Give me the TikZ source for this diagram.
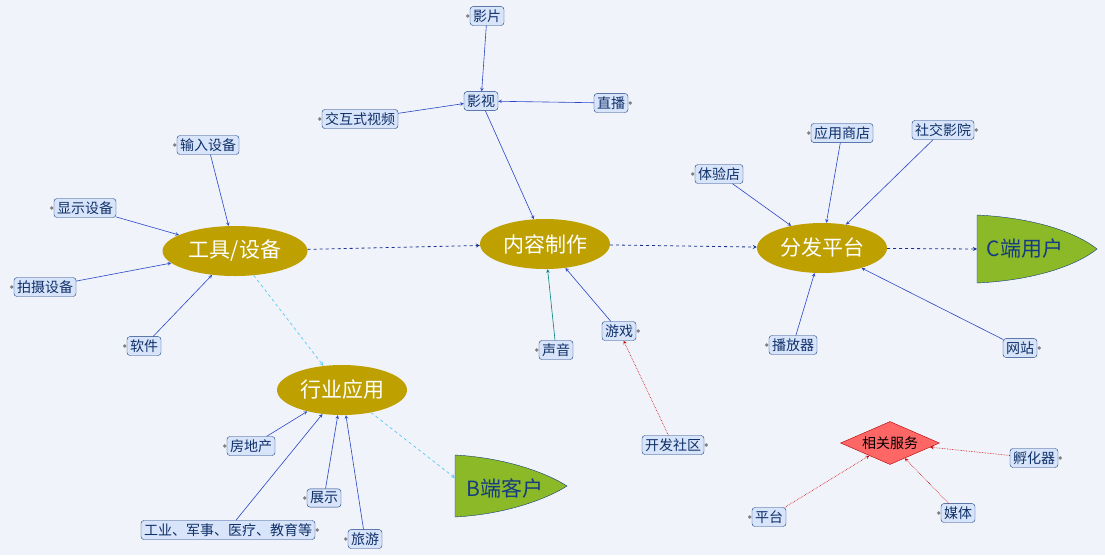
\documentclass[tikz,border=0pt]{standalone}
\usepackage{fontspec}
\setmainfont{Noto Sans CJK SC}
\usetikzlibrary{shapes.geometric}
\definecolor{bg}{RGB}{240,243,250}
\definecolor{olive}{RGB}{190,160,0}
\definecolor{leaf}{RGB}{140,185,40}
\definecolor{boxfill}{RGB}{215,228,250}
\definecolor{boxline}{RGB}{20,60,130}
\definecolor{link}{RGB}{40,70,200}
\begin{document}
\begin{tikzpicture}[
    x=1pt, y=-1pt,
    topic/.style={ellipse, fill=olive, text=white, minimum width=130pt, minimum height=50pt, inner sep=0pt, font=\fontsize{21}{24}\selectfont},
    item/.style={rectangle, rounded corners=3pt, draw=boxline, fill=boxfill, text=boxline!80!black, inner sep=3pt, font=\fontsize{14}{15}\selectfont},
    dotl/.style={label={[circle, fill=gray, inner sep=1.3pt]west:{}}},
    dotr/.style={label={[circle, fill=gray, inner sep=1.3pt]east:{}}},
    arr/.style={->, >=stealth, link, semithick},
    main/.style={->, >=stealth, link!70!black, dashed, thick},
    light/.style={->, >=stealth, cyan!60, dashed, thick},
    red/.style={->, >=stealth, red!80!black, densely dotted, semithick}
]
\fill[bg] (0,0) rectangle (1105,555);
\useasboundingbox (0,0) rectangle (1105,555);

% Main topics
\node[topic, minimum width=145pt] (tools) at (235,251) {工具/设备};
\node[topic] (content) at (545,244) {内容制作};
\node[topic] (dist) at (822,248) {分发平台};
\node[topic] (industry) at (342,390) {行业应用};
\node[diamond, fill=red!60, draw=red!70!black, aspect=2.3, inner sep=2pt, font=\fontsize{14}{15}\selectfont] (service) at (890,443) {相关服务};

% End users
\filldraw[fill=leaf, draw=boxline] (977,215) .. controls (1040,218) and (1080,235) .. (1097,249) .. controls (1080,263) and (1040,280) .. (977,283) -- cycle;
\node[text=boxline, font=\fontsize{21}{24}\selectfont] (cuser) at (1025,249) {C端用户};
\coordinate (cin) at (977,249);
\filldraw[fill=leaf, draw=boxline] (455,455) .. controls (510,458) and (550,475) .. (567,486) .. controls (550,497) and (510,514) .. (455,517) -- cycle;
\node[text=boxline, font=\fontsize{21}{24}\selectfont] (buser) at (505,488) {B端客户};
\coordinate (bin) at (455,478);

% Leaves
\node[item, dotl] (film) at (487,16) {影片};
\node[item] (video) at (481,101) {影视};
\node[item, dotr] (live) at (611,103) {直播};
\node[item, dotl] (inter) at (360,119) {交互式视频};
\node[item, dotl] (input) at (208,145) {输入设备};
\node[item, dotl] (display) at (85,208) {显示设备};
\node[item, dotl] (camera) at (45,287) {拍摄设备};
\node[item, dotl] (soft) at (144,346) {软件};
\node[item, dotl] (store) at (842,133) {应用商店};
\node[item, dotr] (social) at (943,130) {社交影院};
\node[item, dotl] (shop) at (719,174) {体验店};
\node[item, dotl] (player) at (793,345) {播放器};
\node[item, dotr] (web) at (1020,348) {网站};
\node[item, dotl] (sound) at (556,350) {声音};
\node[item, dotr] (game) at (619,331) {游戏};
\node[item, dotr] (dev) at (673,445) {开发社区};
\node[item, dotl] (estate) at (251,446) {房地产};
\node[item, dotl] (show) at (324,498) {展示};
\node[item, dotr] (fields) at (228,530) {工业、军事、医疗、教育等};
\node[item, dotl] (travel) at (365,539) {旅游};
\node[item, dotr] (incub) at (1034,458) {孵化器};
\node[item, dotl] (media) at (958,513) {媒体};
\node[item, dotl] (plat) at (769,517) {平台};

% Connections
\draw[main] (tools) -- (content);
\draw[main] (content) -- (dist);
\draw[main] (dist) -- (cin);
\draw[light] (tools) -- (industry);
\draw[light] (industry) -- (bin);
\draw[arr] (film) -- (video);
\draw[arr] (live) -- (video);
\draw[arr] (inter) -- (video);
\draw[arr] (video) -- (content);
\draw[->, >=stealth, teal, semithick] (sound) -- (content);
\draw[arr] (game) -- (content);
\foreach \n in {input, display, camera, soft} {
    \draw[arr] (\n) -- (tools);
}
\foreach \n in {store, social, shop, player, web} {
    \draw[arr] (\n) -- (dist);
}
\foreach \n in {estate, show, fields, travel} {
    \draw[arr] (\n) -- (industry);
}
\draw[red] (dev) -- (game);
\foreach \n in {incub, media, plat} {
    \draw[red] (\n) -- (service);
}
\end{tikzpicture}
\end{document}
